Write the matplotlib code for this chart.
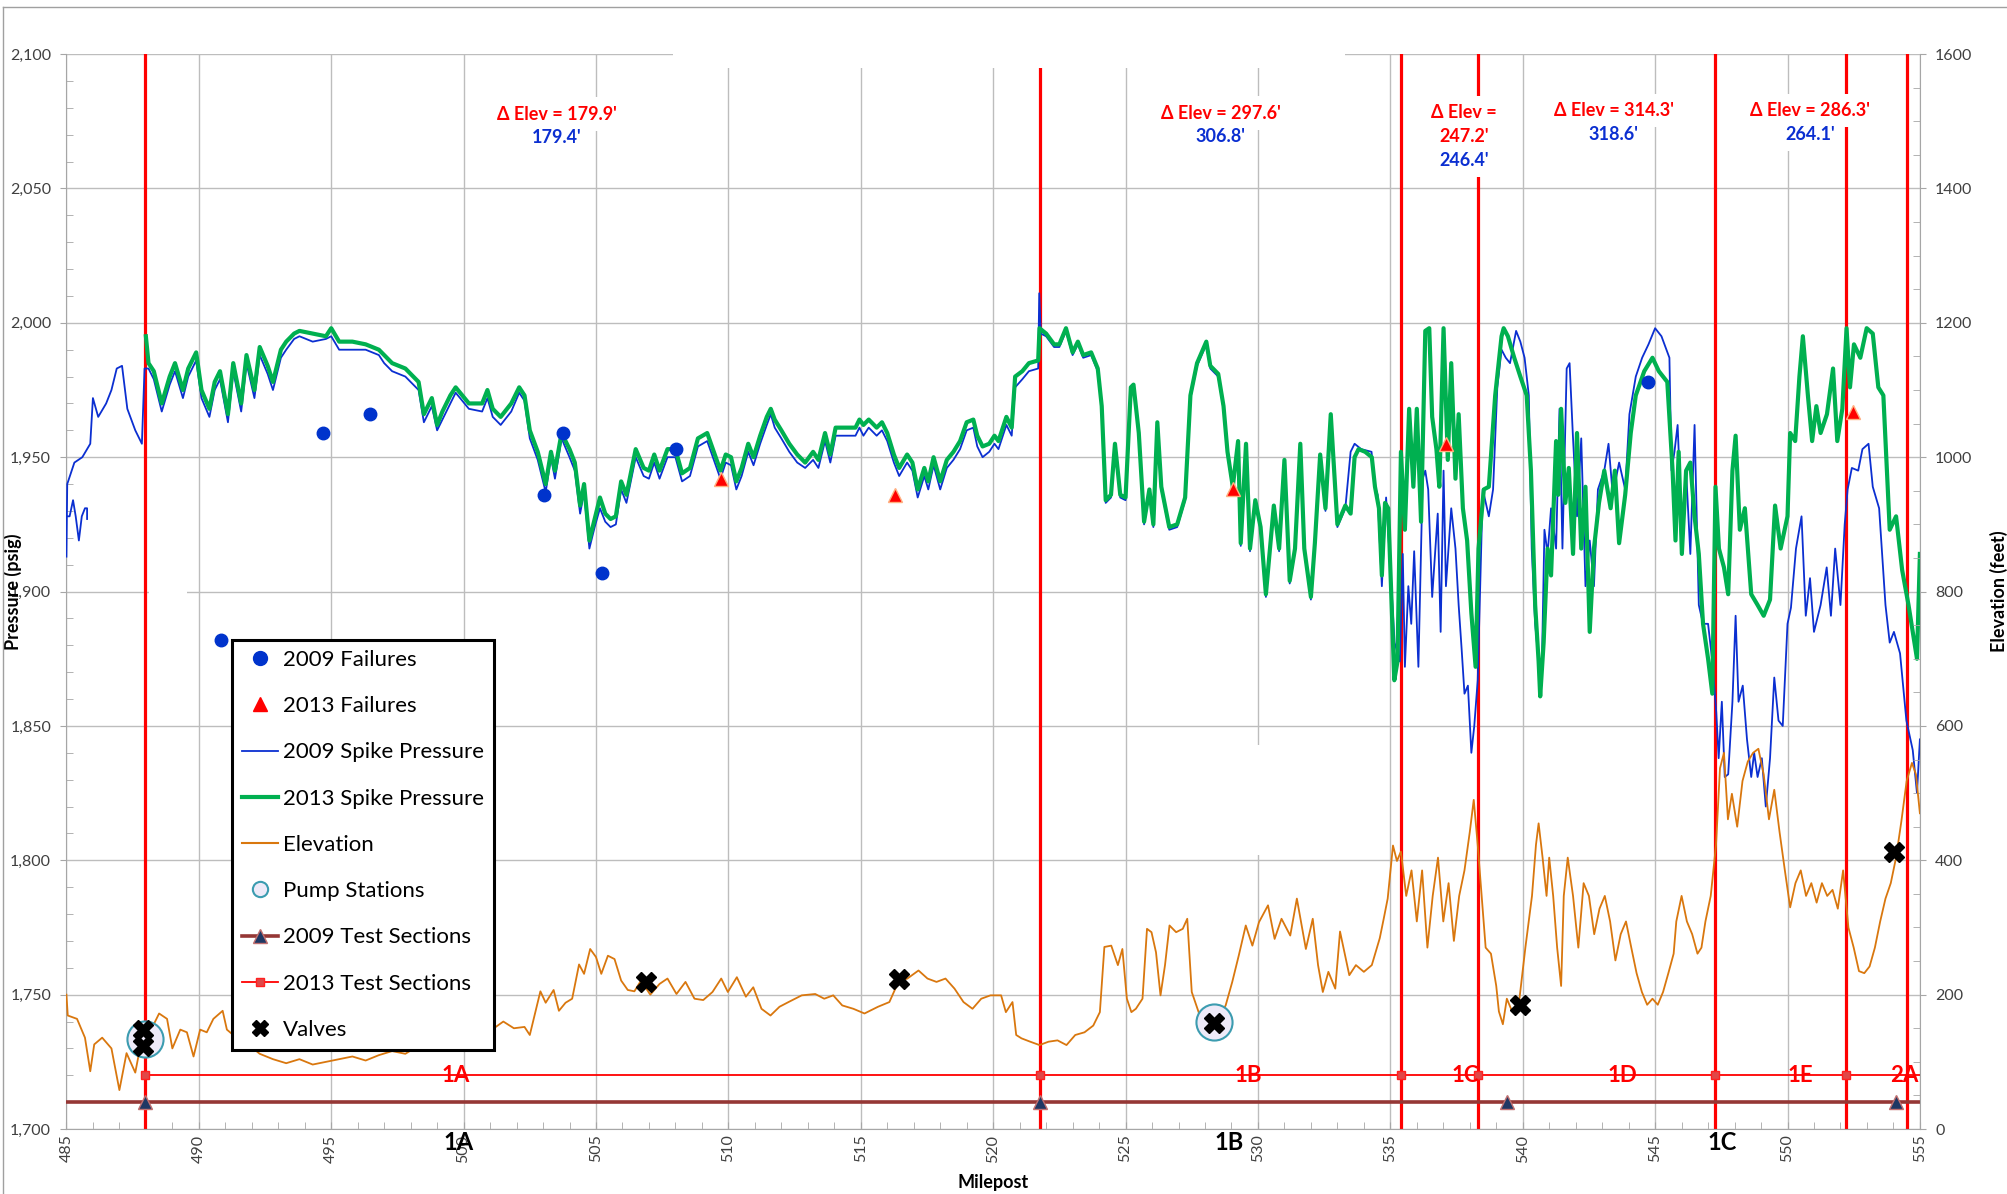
import matplotlib
matplotlib.use("Agg")
import matplotlib.pyplot as plt
from matplotlib.lines import Line2D
from matplotlib.patches import Rectangle
from matplotlib.ticker import MultipleLocator, StrMethodFormatter

plt.rcParams['font.family'] = ['Lato', 'DejaVu Sans']

# ---------------- datos ----------------
# 2013 spike pressure (psig)
green_mp = [488.0, 488.1, 488.3, 488.6, 488.9, 489.1, 489.4, 489.6, 489.9, 490.1, 490.4, 490.6, 490.8, 491.1,
            491.3, 491.6, 491.8, 492.1, 492.3, 492.6, 492.8, 493.1, 493.3, 493.6, 493.8, 494.3, 494.8, 495.0,
            495.3, 495.8, 496.3, 496.8, 497.0, 497.3, 497.8, 498.3, 498.5, 498.8, 499.0, 499.2, 499.5, 499.7,
            500.2, 500.7, 500.9, 501.1, 501.4, 501.8, 502.1, 502.3, 502.5, 502.8, 503.1, 503.3, 503.45, 503.7,
            504.0, 504.2, 504.4, 504.55, 504.75, 504.95, 505.15, 505.35, 505.55, 505.75, 505.95, 506.15, 506.5,
            506.8, 507.0, 507.2, 507.4, 507.7, 508.0, 508.25, 508.55, 508.85, 509.2, 509.45, 509.7, 509.9, 510.1,
            510.3, 510.5, 510.75, 510.95, 511.2, 511.45, 511.6, 511.75, 512.0, 512.3, 512.6, 512.9, 513.2, 513.4,
            513.65, 513.85, 514.05, 514.4, 514.8, 514.95, 515.1, 515.3, 515.6, 515.8, 516.0, 516.25, 516.45,
            516.75, 516.95, 517.15, 517.4, 517.55, 517.75, 518.0, 518.25, 518.5, 518.75, 519.0, 519.25, 519.4,
            519.6, 519.85, 520.05, 520.2, 520.5, 520.7, 520.83, 521.1, 521.35, 521.7, 521.75, 522.0, 522.3,
            522.5, 522.75, 523.0, 523.2, 523.4, 523.7, 523.95, 524.1, 524.25, 524.45, 524.6, 524.8, 525.0,
            525.2, 525.3, 525.5, 525.7, 525.9, 526.05, 526.2, 526.35, 526.65, 526.95, 527.25, 527.45, 527.7,
            528.05, 528.2, 528.5, 528.7, 528.85, 529.05, 529.25, 529.35, 529.55, 529.7, 529.9, 530.1, 530.3,
            530.6, 530.8, 531.0, 531.2, 531.4, 531.6, 531.75, 532.0, 532.15, 532.35, 532.55, 532.75, 533.0,
            533.3, 533.5, 533.65, 533.8, 534.05, 534.3, 534.42, 534.57, 534.68, 534.8, 534.92, 535.05, 535.15,
            535.27, 535.4, 535.55, 535.71, 535.87, 536.0, 536.16, 536.32, 536.47, 536.58, 536.74, 536.85,
            537.01, 537.17, 537.3, 537.46, 537.58, 537.74, 537.9, 538.06, 538.22, 538.33, 538.53, 538.72,
            538.96, 539.2, 539.28, 539.44, 539.68, 539.91, 540.15, 540.31, 540.47, 540.6, 540.66, 540.79,
            540.94, 541.07, 541.26, 541.34, 541.45, 541.61, 541.74, 541.9, 542.05, 542.21, 542.37, 542.53,
            542.69, 542.88, 543.08, 543.32, 543.48, 543.64, 543.87, 544.08, 544.27, 544.59, 544.9, 545.14,
            545.46, 545.66, 545.77, 545.89, 546.01, 546.17, 546.33, 546.49, 546.65, 546.81, 547.0, 547.16,
            547.28, 547.41, 547.6, 547.76, 547.92, 548.04, 548.2, 548.39, 548.63, 548.87, 549.1, 549.34,
            549.53, 549.74, 550.0, 550.1, 550.29, 550.45, 550.58, 550.77, 550.93, 551.09, 551.25, 551.49,
            551.72, 551.88, 552.07, 552.23, 552.36, 552.51, 552.75, 552.99, 553.22, 553.43, 553.62, 553.86,
            554.1, 554.33, 554.57, 554.73, 554.89, 555.0]
green_psi = [1995, 1985, 1982, 1970, 1980, 1985, 1975, 1983, 1989, 1975, 1968, 1978, 1982, 1966,
             1985, 1970, 1988, 1975, 1991, 1984, 1978, 1990, 1993, 1996, 1997, 1996, 1995, 1998,
             1993, 1993, 1992, 1990, 1988, 1985, 1983, 1978, 1966, 1972, 1962, 1967, 1973, 1976,
             1970, 1970, 1975, 1968, 1965, 1970, 1976, 1973, 1960, 1952, 1940, 1952, 1945, 1959,
             1953, 1948, 1932, 1940, 1919, 1927, 1935, 1929, 1927, 1928, 1941, 1936, 1953,
             1946, 1945, 1951, 1945, 1953, 1953, 1944, 1946, 1957, 1959, 1952, 1945, 1951, 1950,
             1941, 1946, 1955, 1950, 1958, 1965, 1968, 1964, 1960, 1955, 1951, 1948, 1952, 1949,
             1959, 1951, 1961, 1961, 1961, 1964, 1962, 1964, 1961, 1963, 1959, 1951, 1946,
             1951, 1948, 1938, 1946, 1941, 1950, 1941, 1949, 1952, 1956, 1963, 1964, 1958,
             1954, 1955, 1958, 1956, 1965, 1961, 1980, 1982, 1985, 1986, 1998, 1996, 1992,
             1992, 1998, 1989, 1993, 1988, 1989, 1983, 1969, 1934, 1936, 1955, 1936, 1935,
             1976, 1977, 1959, 1926, 1938, 1925, 1963, 1939, 1924, 1925, 1935, 1973, 1985,
             1993, 1984, 1981, 1969, 1952, 1939, 1956, 1918, 1955, 1916, 1934, 1924, 1899,
             1932, 1916, 1949, 1904, 1916, 1955, 1916, 1898, 1918, 1951, 1931, 1966, 1925,
             1932, 1929, 1950, 1953, 1952, 1950, 1939, 1931, 1906, 1933, 1931, 1895, 1867,
             1874, 1952, 1923, 1968, 1939, 1968, 1926, 1997, 1998, 1965, 1953, 1939,
             1998, 1949, 1985, 1942, 1966, 1931, 1919, 1892, 1872, 1916, 1938, 1939,
             1973, 1995, 1998, 1995, 1987, 1980, 1973, 1945, 1895, 1874, 1861, 1881,
             1916, 1906, 1956, 1936, 1968, 1933, 1946, 1914, 1959, 1916, 1939, 1885,
             1916, 1933, 1945, 1931, 1945, 1918, 1936, 1959, 1973, 1982, 1987, 1982,
             1978, 1945, 1919, 1952, 1914, 1945, 1948, 1928, 1914, 1888, 1875, 1862,
             1939, 1916, 1909, 1899, 1945, 1958, 1923, 1931, 1899, 1895, 1891, 1897,
             1932, 1916, 1928, 1959, 1956, 1980, 1995, 1973, 1956, 1969, 1959, 1966,
             1983, 1956, 1968, 1998, 1976, 1992, 1987, 1998, 1996, 1976, 1973, 1923,
             1928, 1908, 1895, 1885, 1875, 1914]

# 2009 spike pressure (psig)
blue_mp = [485.0, 485.03, 485.3, 485.6, 485.9, 486.0, 486.2, 486.5, 486.7, 486.9, 487.1, 487.3, 487.6, 487.85,
           487.95, 488.1, 488.3, 488.6, 488.9, 489.1, 489.4, 489.6, 489.9, 490.1, 490.4, 490.6, 490.8, 491.1,
           491.3, 491.6, 491.8, 492.1, 492.3, 492.6, 492.8, 493.1, 493.3, 493.6, 493.8, 494.3, 494.8, 495.0,
           495.3, 495.8, 496.3, 496.8, 497.0, 497.3, 497.8, 498.3, 498.5, 498.8, 499.0, 499.2, 499.5, 499.7,
           500.2, 500.7, 500.9, 501.1, 501.4, 501.8, 502.1, 502.3, 502.5, 502.8, 503.1, 503.3, 503.45, 503.7,
           504.0, 504.2, 504.4, 504.55, 504.75, 504.95, 505.15, 505.35, 505.55, 505.75, 505.95, 506.15, 506.5,
           506.8, 507.0, 507.2, 507.4, 507.7, 508.0, 508.25, 508.55, 508.85, 509.2, 509.45, 509.7, 509.9, 510.1,
           510.3, 510.5, 510.75, 510.95, 511.2, 511.45, 511.6, 511.75, 512.0, 512.3, 512.6, 512.9, 513.2, 513.4,
           513.65, 513.85, 514.05, 514.4, 514.8, 514.95, 515.1, 515.3, 515.6, 515.8, 516.0, 516.25, 516.45,
           516.75, 516.95, 517.15, 517.4, 517.55, 517.75, 518.0, 518.25, 518.5, 518.75, 519.0, 519.25, 519.4,
           519.6, 519.85, 520.05, 520.2, 520.5, 520.7, 520.83, 521.1, 521.35, 521.7, 521.74, 521.8, 522.0,
           522.3, 522.5, 522.75, 523.0, 523.2, 523.4, 523.7, 523.95, 524.1, 524.25, 524.45, 524.6, 524.8,
           525.0, 525.2, 525.3, 525.5, 525.7, 525.9, 526.05, 526.2, 526.35, 526.65, 526.95, 527.25, 527.45,
           527.7, 528.05, 528.2, 528.5, 528.7, 528.85, 529.05, 529.25, 529.35, 529.55, 529.7, 529.9, 530.1,
           530.3, 530.6, 530.8, 531.0, 531.2, 531.4, 531.6, 531.75, 532.0, 532.15, 532.35, 532.55, 532.75,
           533.0, 533.3, 533.5, 533.65, 533.9, 534.29, 534.42, 534.52, 534.68, 534.84, 535.0, 535.16, 535.36,
           535.47, 535.55, 535.68, 535.79, 535.9, 536.06, 536.22, 536.32, 536.43, 536.58, 536.79, 536.9,
           537.01, 537.1, 537.3, 537.46, 537.58, 537.69, 537.8, 537.93, 538.06, 538.17, 538.3, 538.49, 538.72,
           538.88, 539.04, 539.2, 539.36, 539.52, 539.75, 539.91, 540.07, 540.23, 540.34, 540.47, 540.6,
           540.71, 540.82, 540.94, 541.07, 541.26, 541.39, 541.5, 541.66, 541.77, 541.89, 542.05, 542.21,
           542.37, 542.53, 542.69, 542.84, 543.08, 543.24, 543.4, 543.64, 543.87, 544.03, 544.27, 544.51,
           544.75, 545.0, 545.24, 545.54, 545.62, 545.73, 545.85, 546.01, 546.17, 546.33, 546.49, 546.65,
           546.81, 547.0, 547.16, 547.31, 547.4, 547.52, 547.63, 547.76, 547.92, 548.04, 548.15, 548.31,
           548.47, 548.63, 548.74, 548.87, 549.03, 549.18, 549.34, 549.5, 549.66, 549.82, 550.0, 550.13,
           550.32, 550.53, 550.69, 550.85, 551.0, 551.25, 551.48, 551.64, 551.8, 552.0, 552.16, 552.27,
           552.43, 552.67, 552.83, 553.06, 553.22, 553.46, 553.7, 553.86, 554.02, 554.25, 554.49, 554.73,
           554.89, 555.0]
blue_psi = [1913, 1940, 1948, 1950, 1955, 1972, 1965, 1970, 1975, 1983, 1984, 1968, 1960, 1955,
            1983, 1983, 1979, 1967, 1977, 1982, 1972, 1980, 1986, 1972, 1965, 1975, 1979, 1963,
            1982, 1967, 1985, 1972, 1988, 1981, 1975, 1987, 1990, 1994, 1995, 1993, 1994, 1995,
            1990, 1990, 1990, 1988, 1985, 1982, 1980, 1975, 1963, 1969, 1960, 1964, 1970, 1974,
            1968, 1967, 1972, 1965, 1962, 1967, 1974, 1971, 1957, 1949, 1937, 1950, 1942, 1957,
            1950, 1945, 1929, 1937, 1916, 1924, 1931, 1926, 1924, 1925, 1938, 1933, 1950,
            1943, 1942, 1948, 1942, 1950, 1950, 1941, 1943, 1954, 1956, 1949, 1942, 1948, 1947,
            1938, 1943, 1952, 1947, 1955, 1962, 1966, 1961, 1957, 1952, 1948, 1946, 1949, 1946,
            1956, 1948, 1958, 1958, 1958, 1961, 1958, 1961, 1958, 1960, 1956, 1948, 1943,
            1948, 1945, 1935, 1943, 1938, 1947, 1938, 1946, 1949, 1953, 1960, 1961, 1954,
            1950, 1952, 1955, 1953, 1962, 1958, 1976, 1979, 1982, 1983, 2011, 1996, 1995,
            1991, 1991, 1997, 1988, 1992, 1987, 1988, 1982, 1968, 1933, 1935, 1954, 1935,
            1934, 1975, 1976, 1958, 1925, 1937, 1924, 1962, 1938, 1923, 1924, 1934, 1972,
            1984, 1992, 1983, 1980, 1968, 1951, 1938, 1955, 1917, 1954, 1915, 1933, 1923,
            1898, 1931, 1915, 1948, 1903, 1915, 1954, 1915, 1897, 1917, 1950, 1930, 1965,
            1924, 1931, 1952, 1955, 1953, 1952, 1939, 1936, 1902, 1935, 1909, 1881, 1874,
            1914, 1872, 1902, 1888, 1915, 1872, 1942, 1945, 1938, 1898, 1929, 1885,
            1945, 1902, 1931, 1916, 1895, 1879, 1862, 1865, 1840, 1850, 1867, 1938, 1928,
            1938, 1976, 1990, 1987, 1985, 1997, 1993, 1987, 1973, 1916, 1888, 1874,
            1865, 1923, 1914, 1931, 1916, 1968, 1916, 1983, 1985, 1959, 1928, 1957,
            1902, 1919, 1902, 1938, 1945, 1955, 1936, 1948, 1938, 1966, 1980, 1987,
            1992, 1998, 1995, 1987, 1945, 1952, 1962, 1923, 1945, 1914, 1962, 1895,
            1888, 1888, 1874, 1855, 1838, 1859, 1831, 1832, 1859, 1891, 1859, 1865,
            1845, 1831, 1840, 1831, 1838, 1820, 1838, 1868, 1852, 1850, 1888, 1894,
            1916, 1928, 1891, 1905, 1885, 1895, 1909, 1891, 1916, 1895, 1925, 1938,
            1946, 1945, 1953, 1955, 1939, 1931, 1895, 1881, 1885, 1877, 1852, 1841,
            1825, 1845]
# pequeno trazo suelto de 2009 al inicio
blue_bit_mp = [485.0, 485.12, 485.25, 485.35, 485.47, 485.58, 485.7, 485.78, 485.78]
blue_bit_psi = [1928, 1928, 1934, 1928, 1919, 1928, 1931, 1931, 1927]

# elevacion (feet)
elev_mp = [485.0, 485.05, 485.4, 485.7, 485.9, 486.05, 486.35, 486.7, 487.0, 487.27, 487.6, 487.8, 487.95,
           488.2, 488.5, 488.8, 489.0, 489.3, 489.55, 489.8, 490.05, 490.3, 490.55, 490.9, 491.06, 491.3,
           491.8, 492.3, 492.8, 493.3, 493.8, 494.3, 494.8, 495.3, 495.8, 496.3, 496.8, 497.3, 497.8, 498.3,
           498.8, 499.3, 499.8, 500.3, 500.8, 501.0, 501.5, 501.9, 502.3, 502.5, 502.9, 503.1, 503.4, 503.6,
           503.85, 504.1, 504.36, 504.55, 504.78, 505.0, 505.2, 505.45, 505.7, 505.95, 506.2, 506.45, 506.7,
           507.05, 507.4, 507.7, 508.04, 508.38, 508.72, 509.05, 509.4, 509.73, 509.98, 510.32, 510.66,
           510.94, 511.25, 511.59, 511.93, 512.27, 512.77, 513.28, 513.62, 513.96, 514.3, 514.72, 515.14,
           515.65, 516.08, 516.42, 516.76, 517.18, 517.52, 517.86, 518.2, 518.54, 518.88, 519.22, 519.55,
           519.9, 520.3, 520.48, 520.73, 520.87, 521.07, 521.4, 521.75, 522.09, 522.43, 522.77, 523.1,
           523.45, 523.78, 524.03, 524.2, 524.46, 524.71, 524.88, 525.05, 525.22, 525.39, 525.64, 525.81,
           525.98, 526.15, 526.32, 526.49, 526.66, 526.91, 527.16, 527.33, 527.5, 527.76, 528.01, 528.35,
           528.78, 529.03, 529.28, 529.54, 529.79, 530.04, 530.38, 530.63, 530.89, 531.22, 531.47, 531.81,
           532.07, 532.27, 532.45, 532.66, 532.92, 533.1, 533.45, 533.7, 534.0, 534.3, 534.6, 534.75, 534.9,
           535.1, 535.25, 535.4, 535.6, 535.8, 536.0, 536.2, 536.4, 536.6, 536.8, 537.0, 537.2, 537.4, 537.6,
           537.8, 538.0, 538.15, 538.3, 538.45, 538.6, 538.8, 539.0, 539.1, 539.25, 539.4, 539.6, 539.85,
           540.1, 540.35, 540.5, 540.6, 540.75, 540.9, 541.0, 541.15, 541.3, 541.45, 541.55, 541.7, 541.9,
           542.1, 542.3, 542.5, 542.7, 542.9, 543.1, 543.3, 543.5, 543.7, 543.9, 544.1, 544.3, 544.5, 544.7,
           544.9, 545.1, 545.3, 545.5, 545.7, 545.8, 546.0, 546.2, 546.4, 546.6, 546.75, 546.9, 547.1, 547.3,
           547.45, 547.6, 547.75, 547.9, 548.1, 548.3, 548.5, 548.7, 548.9, 549.1, 549.3, 549.5, 549.7,
           549.9, 550.1, 550.3, 550.5, 550.7, 550.9, 551.1, 551.3, 551.5, 551.7, 551.9, 552.1, 552.3, 552.5,
           552.7, 552.9, 553.1, 553.3, 553.5, 553.7, 553.9, 554.1, 554.3, 554.5, 554.7, 554.85, 555.0]
elev_ft = [200, 169, 164, 136, 86, 126, 136, 120, 58, 113, 84, 125, 140,
           148, 172, 164, 120, 148, 144, 108, 148, 144, 164, 176, 148, 140,
           128, 112, 104, 98, 104, 96, 100, 104, 108, 102, 110, 116, 112, 124,
           130, 128, 136, 132, 140, 146, 160, 150, 152, 140, 205, 188, 207, 176,
           188, 194, 245, 231, 268, 256, 231, 258, 253, 221, 207, 205, 221,
           200, 216, 224, 201, 219, 194, 192, 204, 224, 204, 226, 197,
           211, 179, 169, 182, 189, 199, 201, 194, 199, 184, 179, 172,
           182, 189, 219, 224, 236, 224, 219, 224, 209, 189, 179, 194,
           199, 199, 174, 189, 140, 135, 130, 125, 130, 132, 125, 140,
           144, 154, 174, 271, 273, 244, 268, 194, 174, 179, 194, 298,
           293, 263, 199, 244, 303, 293, 298, 313, 204, 174, 149, 154,
           184, 219, 259, 303, 273, 308, 333, 283, 313, 288, 343, 268,
           313, 244, 204, 234, 209, 294, 229, 244, 234, 244, 284, 313, 343,
           422, 399, 413, 347, 385, 309, 385, 270, 347, 404, 309, 366, 280, 347,
           385, 442, 490, 423, 347, 270, 261, 213, 175, 156, 194, 175, 185,
           270, 347, 423, 455, 404, 347, 404, 347, 270, 213, 347, 404, 347,
           270, 366, 347, 290, 328, 347, 309, 251, 290, 309, 270, 232, 204, 185,
           194, 185, 204, 232, 261, 309, 347, 309, 290, 261, 270, 309, 347, 423,
           537, 560, 461, 499, 450, 518, 547, 560, 566, 528, 461, 505, 442,
           385, 330, 366, 385, 347, 366, 337, 366, 347, 356, 328, 385, 300, 270,
           235, 232, 242, 270, 309, 343, 366, 404, 458, 518, 545, 528, 470]

# fallas
fail2009_mp = [490.85, 494.68, 496.47, 503.05, 503.77, 505.22, 508.03, 544.75]
fail2009_psi = [1882, 1959, 1966, 1936, 1959, 1907, 1953, 1978]
fail2013_mp = [509.72, 516.3, 529.07, 537.1, 552.49]
fail2013_psi = [1942, 1936, 1938, 1955, 1967]

# valvulas y estaciones de bombeo (elevacion, feet)
valve_mp = [487.9, 487.9, 506.9, 516.45, 528.35, 539.9, 554.04]
valve_ft = [148, 124, 219, 224, 158, 184, 412]
pump_mp = [487.95, 528.35]
pump_ft = [134, 160]

# secciones de prueba
section_mp = [487.95, 521.75, 535.4, 538.3, 547.25, 552.2, 554.5]
test2013_mp = [487.95, 521.75, 535.4, 538.3, 547.25, 552.2]
test2013_psi = 1720
test2009_mp = [487.95, 521.75, 539.4, 554.1]
test2009_psi = 1710
sec_labels = ['1A', '1B', '1C', '1D', '1E', '2A']
sec_label_mp = [499.7, 529.65, 537.83, 543.78, 550.5, 554.42]
seg_labels = ['1A', '1B', '1C']
seg_label_mp = [499.8, 528.9, 547.55]

# diferencias de elevacion
delev_2013 = ["\u0394 Elev = 179.9'", "\u0394 Elev = 297.6'", "\u0394 Elev =\n247.2'",
              "\u0394 Elev = 314.3'", "\u0394 Elev = 286.3'"]
delev_2009 = ["179.4'", "306.8'", "246.4'", "318.6'", "264.1'"]
delev_mp = [503.53, 528.59, 537.78, 543.44, 550.84]
delev_top = [2077.6, 2078.0, 2078.1, 2079.0, 2079.0]

# ---------------- figura ----------------
fig = plt.figure(figsize=(20.07, 11.94), dpi=100)
ax = fig.add_axes([0.0331, 0.0544, 0.9235, 0.9003])
ax2 = ax.twinx()

gris = '#404040'
ax.set_xlim(485, 555)
ax.set_ylim(1700, 2100)
ax2.set_ylim(0, 1600)

ax.set_axisbelow(True)
ax.grid(which='major', color='#BDBDBD', lw=1.0)

ax.set_xticks(range(485, 556, 5))
ax.xaxis.set_minor_locator(MultipleLocator(1))
ax.set_yticks(range(1700, 2101, 50))
ax.yaxis.set_minor_locator(MultipleLocator(10))
ax.yaxis.set_major_formatter(StrMethodFormatter('{x:,.0f}'))
ax.tick_params(axis='x', which='major', direction='in', length=5, pad=4, labelrotation=90,
               labelsize=11.5, labelcolor=gris, color='#A6A6A6')
ax.tick_params(axis='x', which='minor', direction='in', length=5, color='#A6A6A6')
ax.tick_params(axis='y', which='major', direction='out', length=4, pad=7, labelsize=11.5,
               labelcolor=gris, color='#A6A6A6')
ax.tick_params(axis='y', which='minor', direction='in', length=5, color='#A6A6A6')

ax2.set_yticks(range(0, 1601, 200))
ax2.yaxis.set_minor_locator(MultipleLocator(50))
ax2.tick_params(axis='y', which='major', direction='out', length=4, pad=7, labelsize=11.5,
                labelcolor=gris, color='#A6A6A6')
ax2.tick_params(axis='y', which='minor', direction='in', length=5, color='#A6A6A6')

for s in ['top', 'right']:
    ax.spines[s].set_visible(False)
for s in ['left', 'bottom']:
    ax.spines[s].set_color('#A6A6A6')
for s in ['top', 'left', 'bottom']:
    ax2.spines[s].set_visible(False)
ax2.spines['right'].set_color('#A6A6A6')

# lineas rojas de limite de seccion
for m in section_mp:
    ax.axvline(m, color='#FF0000', lw=2.3, zorder=2)

# presiones
ax.plot(blue_mp, blue_psi, color='#0B2FD1', lw=1.3, zorder=3)
ax.plot(blue_bit_mp, blue_bit_psi, color='#0B2FD1', lw=1.3, zorder=3)
ax.plot(green_mp, green_psi, color='#00B050', lw=3.0, zorder=4)

# secciones de prueba
ax.plot([485] + test2009_mp + [555], [test2009_psi] * (len(test2009_mp) + 2), color='#953735', lw=2.6,
        marker='^', markevery=list(range(1, len(test2009_mp) + 1)), ms=10, mfc='#1F3864',
        mec='#C07070', zorder=5)
ax.plot(test2013_mp + [555], [test2013_psi] * (len(test2013_mp) + 1), color='#FF0000', lw=1.3,
        marker='s', markevery=list(range(len(test2013_mp))), ms=6, mfc='#E04848', mec='#FF2020', zorder=5)

# fallas
ax.plot(fail2009_mp, fail2009_psi, 'o', color='#0033CC', ms=9, zorder=6)
ax.plot(fail2013_mp, fail2013_psi, '^', mfc='#FF0000', mec='#FFB080', ms=10, zorder=6)

# etiquetas de seccion
for lab, m in zip(sec_labels, sec_label_mp):
    ax.text(m, test2013_psi, lab, color='#FF0000', fontsize=16, fontweight='bold',
            ha='center', va='center', zorder=7)
for lab, m in zip(seg_labels, seg_label_mp):
    ax.text(m, 1695, lab, color='black', fontsize=17, fontweight='bold',
            ha='center', va='center', zorder=7, clip_on=False)

# anotaciones de delta de elevacion: primero las cajas blancas, luego el texto
paso = 8.8
for i in range(len(delev_mp)):
    lineas = [(t, '#FF0000') for t in delev_2013[i].split('\n')] + [(delev_2009[i], '#0B2FD1')]
    for k, (t, c) in enumerate(lineas):
        y = delev_top[i] - k * paso
        ax.text(delev_mp[i], y, t, color='white', fontsize=13, fontweight='bold',
                ha='center', va='center', zorder=10, bbox=dict(fc='white', ec='none', pad=6))
        ax.text(delev_mp[i], y, t, color=c, fontsize=13, fontweight='bold',
                ha='center', va='center', zorder=12)

# huecos blancos del original
ax.add_patch(Rectangle((507.9, 2094.9), 533.3 - 507.9, 8, fc='white', ec='none', zorder=13, clip_on=False))
ax.add_patch(Rectangle((529.5, 1802), 1.0, 41, fc='white', ec='none', zorder=1))
ax.add_patch(Rectangle((488.1, 1895), 1.45, 10, fc='white', ec='none', zorder=1))

# elevacion, valvulas, estaciones
ax2.plot(elev_mp, elev_ft, color='#D9770E', lw=1.3, zorder=2)
ax2.plot(pump_mp, pump_ft, 'o', ms=26, mfc='#EEEAF8', mec='#3C9CB0', mew=1.5, zorder=3)
ax2.plot(valve_mp, valve_ft, 'X', ms=15, color='black', mec='black', zorder=4)

# ejes
ax.set_xlabel('Milepost', fontsize=13, fontweight='bold')
ax.xaxis.set_label_coords(0.5, -0.042)
ax.set_ylabel('Pressure (psig)', fontsize=13, fontweight='bold')
ax.yaxis.set_label_coords(-0.024, 0.5)
ax2.set_ylabel('Elevation (feet)', fontsize=13, fontweight='bold')
ax2.yaxis.set_label_coords(1.038, 0.5)

# leyenda
handles = [
    Line2D([], [], ls='none', marker='o', color='#0033CC', ms=10),
    Line2D([], [], ls='none', marker='^', mfc='#FF0000', mec='#FF0000', ms=10),
    Line2D([], [], color='#0B2FD1', lw=1.3),
    Line2D([], [], color='#00B050', lw=3.0),
    Line2D([], [], color='#D9770E', lw=1.5),
    Line2D([], [], ls='none', marker='o', ms=11, mfc='#EEEAF8', mec='#3C9CB0', mew=1.5),
    Line2D([], [], color='#953735', lw=2.6, marker='^', ms=10, mfc='#1F3864', mec='#C07070'),
    Line2D([], [], color='#FF0000', lw=1.3, marker='s', ms=6, mfc='#E04848', mec='#FF2020'),
    Line2D([], [], ls='none', marker='X', ms=12, color='black'),
]
labels = ['2009 Failures', '2013 Failures', '2009 Spike Pressure', '2013 Spike Pressure', 'Elevation',
          'Pump Stations', '2009 Test Sections', '2013 Test Sections', 'Valves']
leg = ax2.legend(handles, labels, loc='upper left', bbox_to_anchor=(232 / 2007, 1 - 640 / 1194),
                 bbox_transform=fig.transFigure, fontsize=16, frameon=True, fancybox=False,
                 framealpha=1, edgecolor='black', labelspacing=1.18, borderpad=0.45, borderaxespad=0,
                 handlelength=1.6, handletextpad=0.25)
leg.get_frame().set_linewidth(2.2)
leg.set_zorder(20)

# marco de la figura
fig.add_artist(Line2D([3 / 2007, 3 / 2007], [0, 1 - 7 / 1194], transform=fig.transFigure, color='#A0A0A0', lw=1))
fig.add_artist(Line2D([3 / 2007, 1], [1 - 7 / 1194, 1 - 7 / 1194], transform=fig.transFigure, color='#A0A0A0', lw=1))

fig.savefig('out.png', dpi=100)
